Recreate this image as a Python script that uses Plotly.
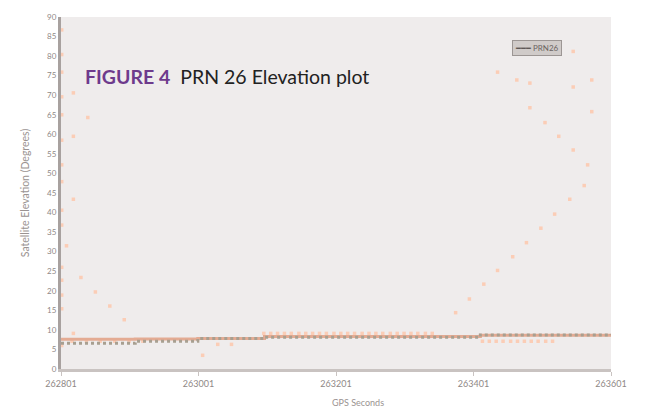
import plotly.graph_objects as go

# ---- data ----
x_ticks = [262801, 263001, 263201, 263401, 263601]
x_tick_labels = ["262801", "263001", "263201", "263401", "263601"]
y_ticks = list(range(0, 95, 5))
legend_label = "PRN26"

# stepped elevation lines near the bottom
line_a_x = [262801, 262909, 263000, 263097, 263411, 263601]
line_a_y = [7.6, 7.7, 7.8, 8.3, 8.6, 8.6]
line_b_x = [262801, 262909, 263000, 263097, 263411, 263601]
line_b_y = [6.6, 7.1, 7.8, 8.1, 8.7, 8.8]

# scattered elevation samples
scat_x = [262802, 262802, 262802, 262802, 262802, 262802, 262802, 262802, 262802,
          262802, 262809, 262802, 262802, 262802, 262802, 262819, 262802,
          262819, 262840, 262819, 262819, 262830, 262851, 262872, 262893,
          263007, 263029, 263049, 262817, 262838, 262858, 262879, 262900, 262920,
          263096, 263106, 263116, 263126, 263136, 263147, 263157, 263167, 263177,
          263187, 263198, 263208, 263218, 263228, 263239, 263249, 263259, 263269,
          263280, 263290, 263300, 263310, 263320, 263331, 263341,
          263414, 263424, 263434, 263444, 263455, 263465, 263475, 263485, 263495,
          263506, 263516,
          263375, 263395, 263416, 263436, 263458, 263478, 263499, 263519, 263541, 263562,
          263567, 263546, 263525, 263505, 263483, 263483, 263464, 263436, 263546,
          263573, 263546, 263573]
scat_y = [86.7, 80.4, 75.9, 69.6, 65.0, 58.5, 52.2, 47.9, 40.6,
          36.8, 31.5, 26.0, 22.7, 18.9, 15.4, 9.1, 6.0,
          70.6, 64.3, 59.5, 43.4, 23.4, 19.7, 16.1, 12.6,
          3.5, 6.3, 6.3, 7.1, 7.1, 7.1, 7.1, 7.1, 7.1,
          9.1, 9.1, 9.1, 9.1, 9.1, 9.1, 9.1, 9.1, 9.1,
          9.1, 9.1, 9.1, 9.1, 9.1, 9.1, 9.1, 9.1, 9.1,
          9.1, 9.1, 9.1, 9.1, 9.1, 9.1, 9.1,
          7.1, 7.1, 7.1, 7.1, 7.1, 7.1, 7.1, 7.1, 7.1,
          7.1, 7.1,
          14.4, 17.9, 21.7, 25.2, 28.7, 32.3, 36.0, 39.6, 43.4, 46.9,
          52.2, 56.0, 59.5, 63.0, 66.8, 73.1, 73.9, 75.9, 81.2,
          73.9, 72.1, 65.8]

fig = go.Figure()
fig.add_trace(go.Scatter(x=scat_x, y=scat_y, mode="markers",
                         marker=dict(symbol="square", size=3.5, color="#fbcdb6"),
                         showlegend=False))
fig.add_trace(go.Scatter(x=line_a_x, y=line_a_y, mode="lines", line_shape="hv",
                         line=dict(color="#e4ab93", width=3), showlegend=False))
fig.add_trace(go.Scatter(x=line_b_x, y=line_b_y, mode="lines", line_shape="hv",
                         line=dict(color="#a89f90", width=3, dash="dot"),
                         name=legend_label, showlegend=False))

fig.update_layout(
    width=650, height=412,
    margin=dict(l=53, r=47, t=4, b=51),
    paper_bgcolor="white",
    plot_bgcolor="#efecec",
    font=dict(family="Lato", size=8, color="#8f8886"),
    showlegend=False,
    xaxis=dict(range=[262801, 263601], tickvals=x_ticks, ticktext=x_tick_labels,
               showgrid=False, zeroline=False, showline=True, linecolor="#c9c3c1",
               linewidth=3, ticks="outside", ticklen=4, tickcolor="#c9c3c1",
               tickfont=dict(size=9, color="#8f8886")),
    yaxis=dict(range=[0, 90], tickvals=y_ticks, showgrid=False, zeroline=False,
               showline=True, linecolor="#a8a19f", linewidth=3, ticks="",
               ticklabeloverflow="allow",
               tickfont=dict(size=8, color="#8f8886"),
               title=dict(text="Satellite Elevation (Degrees)",
                          font=dict(size=10.5, color="#9a9391"), standoff=16)),
)

# compact legend box (top right)
fig.add_annotation(xref="paper", yref="paper", x=0.866, y=0.912,
                   xanchor="center", yanchor="middle",
                   text="<span style='color:#5e5856'>━━━</span> " + legend_label,
                   showarrow=False, bgcolor="#d0cbc9", bordercolor="#9c9694",
                   borderwidth=1, borderpad=2,
                   font=dict(size=8, color="#6a6462"))

fig.add_annotation(xref="paper", yref="paper", x=0.54, y=-0.095,
                   xanchor="center", yanchor="middle", text="GPS Seconds",
                   showarrow=False, font=dict(size=9, color="#9a9391"))

fig.add_annotation(xref="paper", yref="paper", x=0.04, y=0.83,
                   xanchor="left", yanchor="middle",
                   text="<b><span style='color:#6e3a8c'>FIGURE 4</span></b>  PRN 26 Elevation plot",
                   showarrow=False, font=dict(family="Lato", size=19.5, color="#222222"))

fig.write_html("out.html")
